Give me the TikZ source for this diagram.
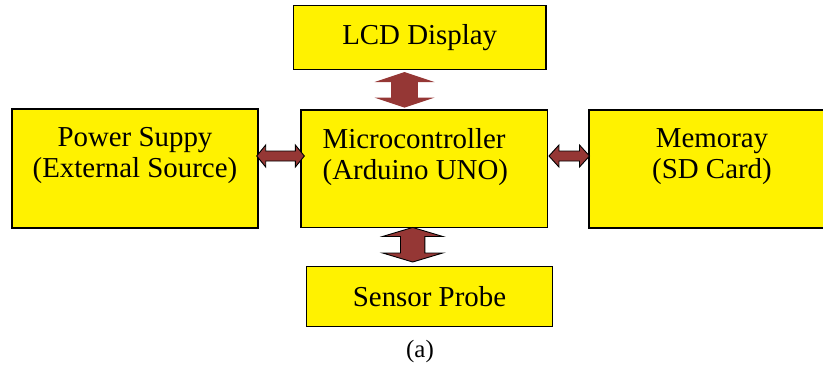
\documentclass[tikz,border=0pt]{standalone}
\usepackage{fontspec}
\setmainfont{Liberation Serif}
\usetikzlibrary{positioning,calc}
\definecolor{arrowred}{RGB}{149,55,53}
\begin{document}
\begin{tikzpicture}[x=1bp,y=-1bp,
  box/.style={draw=black,fill=yellow,line width=1.5bp,inner sep=0pt,outer sep=0pt,minimum width=246bp},
  txt/.style={font=\fontsize{29}{31}\selectfont,inner sep=0pt},
  ba/.style={fill=arrowred,draw=black,line width=0.9bp,line join=miter},
  bap/.style={fill=arrowred}]
  % block arrow: [style]{from}{to}{shaft half width}{head half width}{head length}
  \newcommand{\blockarrow}[6][ba]{%
    \path[#1] (#2) -- ($(#2)!#6!(#3)!#5!90:(#3)$) -- ($(#2)!#6!(#3)!#4!90:(#3)$)
      -- ($(#3)!#6!(#2)!#4!-90:(#2)$) -- ($(#3)!#6!(#2)!#5!-90:(#2)$) -- (#3)
      -- ($(#3)!#6!(#2)!#5!90:(#2)$) -- ($(#3)!#6!(#2)!#4!90:(#2)$)
      -- ($(#2)!#6!(#3)!#4!-90:(#3)$) -- ($(#2)!#6!(#3)!#5!-90:(#3)$) -- cycle;}
  \useasboundingbox (0,0) rectangle (823,366);
  \node[box,txt,minimum width=252.7bp,minimum height=64bp] (lcd) at (419.7,37.3) {LCD Display};
  \node[box,minimum height=119bp] (power) at (135,168.5) {};
  \node[txt,align=center,below=18.5bp of power.north] (powertxt) {Power Suppy\\(External Source)};
  \node[box,minimum width=246.5bp,minimum height=117.5bp] (micro) at (424.2,168.7) {};
  \node[txt,align=left,below right=18.5bp and 21.5bp of micro.north west] (microtxt) {Microcontroller\\(Arduino UNO)};
  \node[box,minimum height=118bp] (memory) at (712,169) {};
  \node[txt,align=center,below=18.5bp of memory.north] (memorytxt) {Memoray\\(SD Card)};
  \node[box,txt,minimum width=246.4bp,minimum height=60bp] (sensor) at (429.5,296.7) {Sensor Probe};
  \node[font=\fontsize{25}{30}\selectfont,inner sep=0pt,anchor=base] (cap) at (420,357) {(a)};
  \coordinate (t1) at ($(lcd.south)+(-15.2,2.7)$);
  \coordinate (t2) at ($(micro.north)+(-19.7,-2.3)$);
  \coordinate (b1) at ($(micro.south)+(-11.5,0)$);
  \coordinate (b2) at ($(sensor.north)+(-16.8,-4.7)$);
  \coordinate (l1) at ($(power.east)+(-1.3,-12.5)$);
  \coordinate (l2) at ($(micro.west)+(3.4,-12.7)$);
  \coordinate (r1) at ($(micro.east)+(1.5,-12.7)$);
  \coordinate (r2) at ($(memory.west)+(0.5,-13)$);
  \blockarrow[bap]{t1}{t2}{13.3bp}{30bp}{10bp}
  \blockarrow{b1}{b2}{12.2bp}{30bp}{9bp}
  \blockarrow{l1}{l2}{5bp}{11bp}{9bp}
  \blockarrow{r1}{r2}{5bp}{11bp}{10bp}
\end{tikzpicture}
\end{document}
